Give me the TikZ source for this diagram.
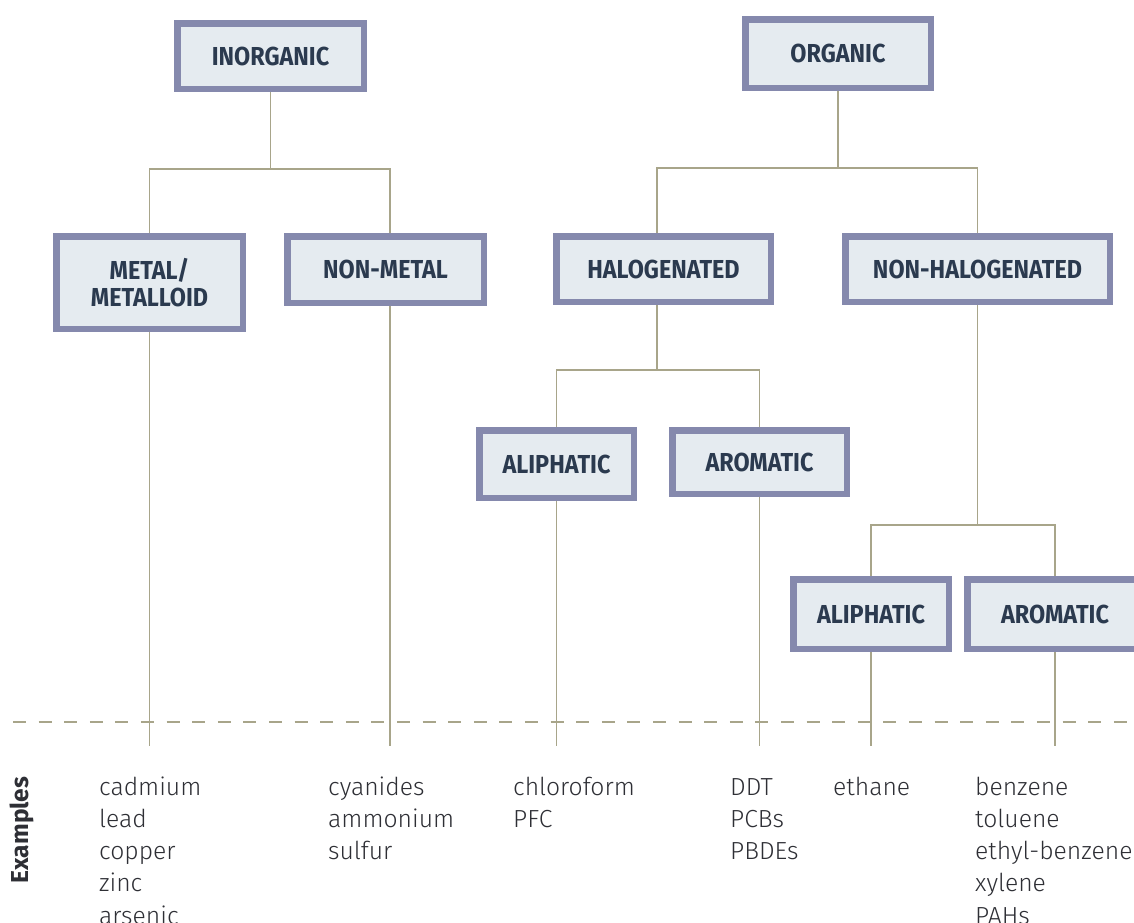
\documentclass[tikz,border=0pt]{standalone}
\usepackage{fontspec}
\setmainfont{Fira Sans}
\IfFontExistsTF{Fira Sans Light}{\newfontfamily\exfont{Fira Sans Light}}{\newfontfamily\exfont{Fira Sans}}
\newfontfamily\labelfont[FakeStretch=0.9]{Fira Sans}
\definecolor{boxedge}{HTML}{8589AD}
\definecolor{boxfill}{HTML}{E5EBF0}
\definecolor{linecol}{HTML}{A8A58A}
\definecolor{labeltext}{HTML}{2B3A4F}
\definecolor{extextcol}{HTML}{2E2F35}
\pgfdeclarelayer{bg}
\pgfsetlayers{bg,main}
\newcommand\exline[1]{\hbox{\strut #1}}
\tikzset{
  catbox/.style={draw=boxedge, fill=boxfill, line width=6.5pt, inner sep=0pt,
    font=\labelfont\bfseries\fontsize{26}{26.5}\selectfont, text=labeltext, align=center},
  conn/.style={draw=linecol, line width=1.5pt},
  dashline/.style={draw=linecol, line width=1.5pt, dash pattern=on 13pt off 12.6pt},
  extext/.style={anchor=base west, inner sep=0pt,
    font=\exfont\fontsize{24.7}{32.3}\selectfont, text=extextcol},
  exlabel/.style={rotate=90, inner sep=0pt, font=\bfseries\fontsize{24.5}{26}\selectfont, text=extextcol}
}
\begin{document}
\begin{tikzpicture}[x=1pt,y=-1pt]
\clip (0,0) rectangle (1134,922);
\begin{pgfonlayer}{bg}
\fill[white] (0,0) rectangle (1134,922);
\end{pgfonlayer}
% junctions
\coordinate (jI) at (270.5,169);
\coordinate (jO) at (838,168);
\coordinate (jH) at (657,370);
\coordinate (jN) at (977.5,525);
\coordinate (base) at (0,746);
\coordinate (dl) at (13,722);
\coordinate (dr) at (1134,722);
% boxes
\node[catbox, minimum width=186.5pt, minimum height=65.5pt] (inorg) at (270.5,56) {INORGANIC};
\node[catbox, minimum width=186.5pt, minimum height=92.5pt] (metal) at (149.5,282.5) {METAL/\\METALLOID};
\node[catbox, minimum width=196.5pt, minimum height=66.5pt] (nonmetal) at (385.5,269.5) {NON-METAL};
\node[catbox, minimum width=185.5pt, minimum height=68.5pt] (org) at (838,53.5) {ORGANIC};
\node[catbox, minimum width=214.5pt, minimum height=65.5pt] (halo) at (663.5,269) {HALOGENATED};
\node[catbox, minimum width=264.5pt, minimum height=65.5pt] (nonhalo) at (977.5,269) {NON-HALOGENATED};
\node[catbox, minimum width=154.5pt, minimum height=67.5pt] (aliph1) at (556.5,464) {ALIPHATIC};
\node[catbox, minimum width=174.5pt, minimum height=63.5pt] (arom1) at (759.5,462) {AROMATIC};
\node[catbox, minimum width=155.5pt, minimum height=69.5pt] (aliph2) at (871,614) {ALIPHATIC};
\node[catbox, minimum width=175.5pt, minimum height=69.5pt] (arom2) at (1055,614) {AROMATIC};
\begin{pgfonlayer}{bg}
% dashed separator
\draw[dashline] (dl) -- (dr);
% connectors
\draw[conn] (inorg.south) -- (jI);
\draw[conn] (metal.north) |- (jI) -| ([xshift=4.5pt]nonmetal.north);
\draw[conn] (org.south) -- (jO);
\draw[conn] ([xshift=-6.5pt]halo.north) |- (jO) -| (nonhalo.north);
\draw[conn] ([xshift=-6.5pt]halo.south) -- (jH);
\draw[conn] (aliph1.north) |- (jH) -| (arom1.north);
\draw[conn] (nonhalo.south) -- (jN);
\draw[conn] (aliph2.north) |- (jN) -| (arom2.north);
\draw[conn] (metal.south) -- (metal.south |- base);
\draw[conn] ([xshift=4.5pt]nonmetal.south) -- ([xshift=4.5pt]nonmetal.south |- base);
\draw[conn] (aliph1.south) -- (aliph1.south |- base);
\draw[conn] (arom1.south) -- (arom1.south |- base);
\draw[conn] (aliph2.south) -- (aliph2.south |- base);
\draw[conn] (arom2.south) -- (arom2.south |- base);
\end{pgfonlayer}
% examples
\node[exlabel] (exl) at (22,830) {Examples};
\node[extext] (exM) at (99,795) {\vtop{\exline{cadmium}\exline{lead}\exline{copper}\exline{zinc}\exline{arsenic}}};
\node[extext] (exN) at (328,795) {\vtop{\exline{cyanides}\exline{ammonium}\exline{sulfur}}};
\node[extext] (exA1) at (513,795) {\vtop{\exline{chloroform}\exline{PFC}}};
\node[extext] (exR1) at (730,795) {\vtop{\exline{DDT}\exline{PCBs}\exline{PBDEs}}};
\node[extext] (exA2) at (833,795) {\vtop{\exline{ethane}}};
\node[extext] (exR2) at (975,795) {\vtop{\exline{benzene}\exline{toluene}\exline{ethyl-benzene}\exline{xylene}\exline{PAHs}}};
\end{tikzpicture}
\end{document}
